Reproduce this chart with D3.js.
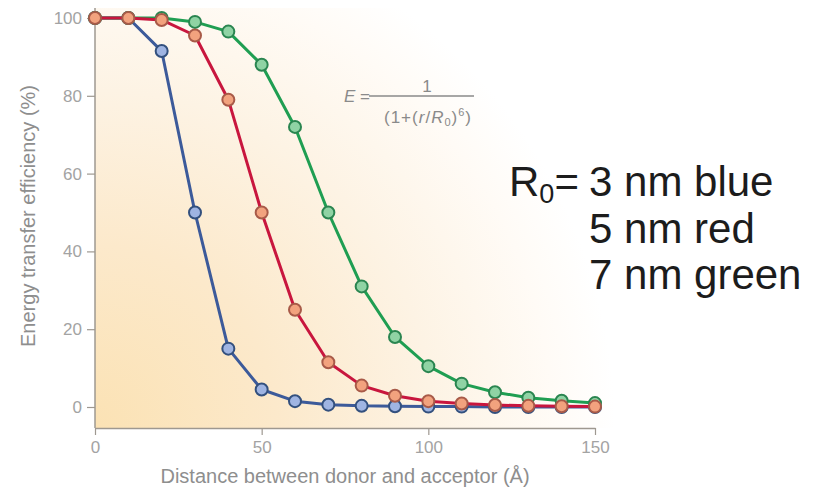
<!DOCTYPE html>
<html>
<head>
<meta charset="utf-8">
<script src="https://cdn.jsdelivr.net/npm/d3@7"></script>
<style>
  html, body { margin: 0; padding: 0; background: #fff; }
  svg { display: block; }
</style>
</head>
<body>
<div id="chart"></div>
<script>
// Values (distance in Å, efficiency in %)
const distance = [0, 10, 20, 30, 40, 50, 60, 70, 80, 90, 100, 110, 120, 130, 140, 150];
const blueEff  = [100, 100, 91.5, 50, 15, 4.5, 1.5, 0.6, 0.3, 0.2, 0.1, 0.1, 0, 0, 0, 0];
const redEff   = [100, 100, 99.5, 95.5, 79, 50, 25, 11.5, 5.5, 2.9, 1.5, 0.9, 0.5, 0.3, 0.2, 0.1];
const greenEff = [100, 100, 100, 99, 96.5, 88, 72, 50, 31, 18, 10.5, 6, 3.8, 2.4, 1.6, 1.0];
const xTicks = [0, 50, 100, 150];
const yTicks = [0, 20, 40, 60, 80, 100];
const legendLines = ['3 nm blue', '5 nm red', '7 nm green'];

const W = 816, H = 490;
const font = 'Liberation Sans, Arial, sans-serif';

const svg = d3.select('#chart').append('svg')
  .attr('width', W).attr('height', H)
  .style('background', '#fff');

const x = d3.scaleLinear().domain([0, 150]).range([95, 595]);
const y = d3.scaleLinear().domain([0, 100]).range([407, 18]);
const axisY = 428, axisTop = 8;

// warm background glow, strongest at lower left
const defs = svg.append('defs');
const grad = defs.append('radialGradient')
  .attr('id', 'glow')
  .attr('gradientUnits', 'userSpaceOnUse')
  .attr('cx', x(0)).attr('cy', axisY).attr('r', 520);
[[0, '#fbe2b4'], [0.35, '#fce9cb'], [0.65, '#fdf3e4'], [0.88, '#fffbf6'], [1, '#ffffff']]
  .forEach(([o, c]) => grad.append('stop').attr('offset', o).attr('stop-color', c));

svg.append('rect')
  .attr('x', x(0)).attr('y', axisTop)
  .attr('width', 530).attr('height', axisY - axisTop)
  .attr('fill', 'url(#glow)');

// Axes
const tickColor = '#a3a3a3';
const axisColor = '#9e9890';

const gx = svg.append('g')
  .attr('transform', `translate(0,${axisY})`)
  .call(d3.axisBottom(x).tickValues(xTicks).tickSize(7).tickPadding(6).tickSizeOuter(0));
gx.select('.domain').attr('stroke', axisColor).attr('stroke-width', 1.5);
gx.selectAll('.tick line').attr('stroke', axisColor).attr('stroke-width', 1.2);
gx.selectAll('.tick text')
  .attr('fill', tickColor).attr('font-size', 17).attr('font-family', font);

const gy = svg.append('g')
  .attr('transform', `translate(${x(0)},0)`)
  .call(d3.axisLeft(y).tickValues(yTicks).tickSize(8).tickPadding(5));
gy.select('.domain').remove();
gy.selectAll('.tick line').attr('stroke', axisColor).attr('stroke-width', 1.2);
gy.selectAll('.tick text')
  .attr('fill', tickColor).attr('font-size', 17).attr('font-family', font);

svg.append('line')
  .attr('x1', x(0)).attr('x2', x(0))
  .attr('y1', axisTop).attr('y2', axisY)
  .attr('stroke', axisColor).attr('stroke-width', 1.5);

// Axis titles
svg.append('text')
  .attr('x', 345).attr('y', 483)
  .attr('text-anchor', 'middle')
  .attr('fill', '#8e8e8e').attr('font-size', 20).attr('font-family', font)
  .text('Distance between donor and acceptor (Å)');

svg.append('text')
  .attr('transform', 'translate(35,216) rotate(-90)')
  .attr('text-anchor', 'middle')
  .attr('fill', '#8e8e8e').attr('font-size', 20).attr('font-family', font)
  .text('Energy transfer efficiency (%)');

// Series (blue, green, red: red markers sit on top in the picture)
const series = [
  { values: blueEff,  line: '#3c5a9a', fill: '#9fb4e2', stroke: '#33507e' },
  { values: greenEff, line: '#1f9e52', fill: '#8fd3a4', stroke: '#2a8550' },
  { values: redEff,   line: '#c8163e', fill: '#f2a27e', stroke: '#a85a48' }
];

const lineGen = d3.line()
  .x((d, i) => x(distance[i]))
  .y(d => y(d));

series.forEach(s => {
  svg.append('path')
    .datum(s.values)
    .attr('d', lineGen)
    .attr('fill', 'none')
    .attr('stroke', s.line)
    .attr('stroke-width', 3)
    .attr('stroke-linejoin', 'round');

  svg.append('g')
    .selectAll('circle')
    .data(s.values)
    .join('circle')
    .attr('cx', (d, i) => x(distance[i]))
    .attr('cy', d => y(d))
    .attr('r', 6)
    .attr('fill', s.fill)
    .attr('stroke', s.stroke)
    .attr('stroke-width', 2);
});

// Formula
const formula = svg.append('g').attr('fill', '#8a8a8a').attr('font-family', font).attr('font-size', 17);
formula.append('text').attr('x', 344).attr('y', 102)
  .html('<tspan font-style="italic">E</tspan> =');
formula.append('text').attr('x', 427).attr('y', 92).attr('text-anchor', 'middle').text('1');
formula.append('line')
  .attr('x1', 369).attr('x2', 474).attr('y1', 96).attr('y2', 96)
  .attr('stroke', '#8a8a8a').attr('stroke-width', 1.3);
formula.append('text').attr('x', 428).attr('y', 123).attr('text-anchor', 'middle')
  .attr('letter-spacing', 1)
  .html('(1+(<tspan font-style="italic">r</tspan>/<tspan font-style="italic">R</tspan><tspan font-size="11" dy="3">0</tspan><tspan dy="-3">)</tspan><tspan font-size="11" dy="-7">6</tspan><tspan dy="7">)</tspan>');

// R0 legend text
const legend = svg.append('g').attr('fill', '#1c1c1c').attr('font-family', font).attr('font-size', 42);
const first = legend.append('text').attr('x', 509).attr('y', 196);
first.append('tspan').text('R');
first.append('tspan').attr('font-size', 27).attr('dy', 7).text('0');
first.append('tspan').attr('dy', -7).text('=');
first.append('tspan').attr('x', 589).text(legendLines[0]);

legend.selectAll('text.more')
  .data(legendLines.slice(1))
  .join('text')
  .attr('class', 'more')
  .attr('x', 589)
  .attr('y', (d, i) => 243 + i * 46)
  .text(d => d);
</script>
</body>
</html>
